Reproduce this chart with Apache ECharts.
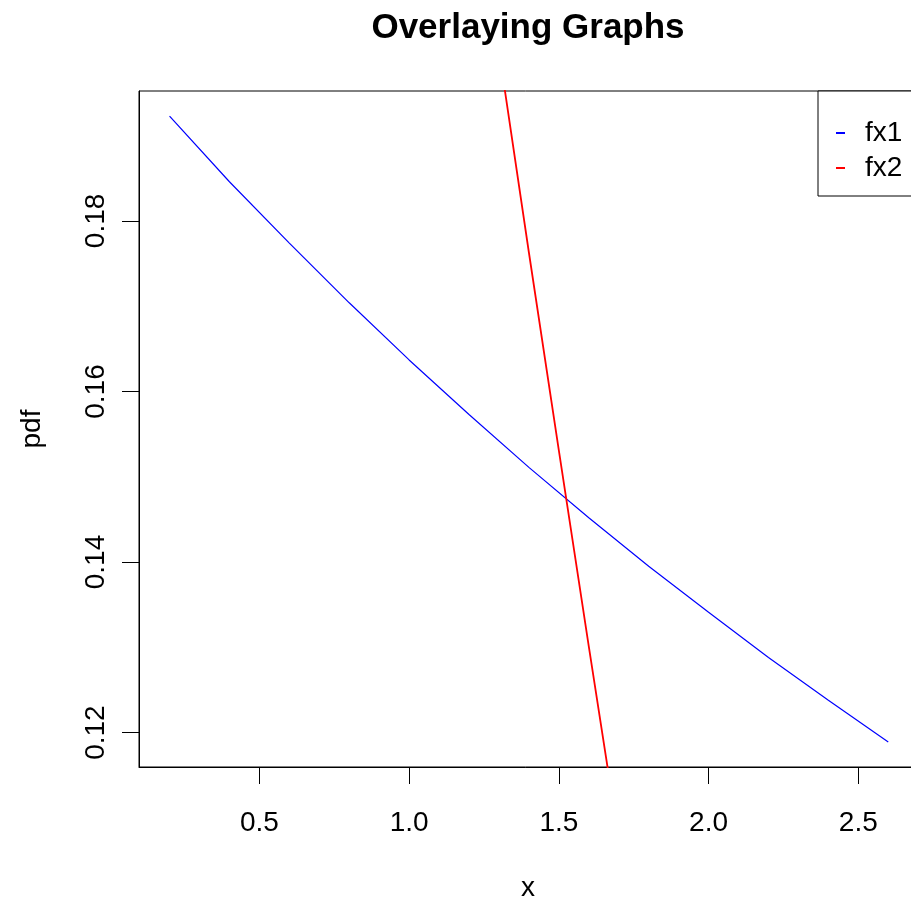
<!DOCTYPE html>
<html>
<head>
<meta charset="utf-8">
<title>Overlaying Graphs</title>
<script src="https://cdn.jsdelivr.net/npm/echarts@6/dist/echarts.min.js"></script>
<style>
  html, body { margin: 0; padding: 0; background: #fff; }
  #chart { width: 911px; height: 904px; }
</style>
</head>
<body>
<div id="chart"></div>
<script>
// Density curve fx1, sampled along x
const fx1X = [0.2, 0.4, 0.6, 0.8, 1.0, 1.2, 1.4, 1.6, 1.8, 2.0, 2.2, 2.4, 2.6];
const fx1Y = [0.1923, 0.1846, 0.1774, 0.1704, 0.1637, 0.1573, 0.1511, 0.1452, 0.1395, 0.1341, 0.1288, 0.1238, 0.1189];

// Density curve fx2 (steep; only its middle part falls inside the y range)
const fx2X = [1.2, 1.3, 1.4, 1.5, 1.6, 1.7, 1.8];
const fx2Y = [0.2290, 0.2000, 0.1763, 0.1531, 0.1301, 0.1075, 0.0860];

// Axis limits and tick marks
const xLimits = [0.098, 2.696];
const yLimits = [0.11596, 0.19524];
const xTicks = [0.5, 1.0, 1.5, 2.0, 2.5];
const yTicks = [0.12, 0.14, 0.16, 0.18];

const seriesNames = ['fx1', 'fx2'];
const seriesColors = ['#0000ff', '#ff0000'];

const pairs = (xs, ys) => xs.map((x, i) => [x, ys[i]]);

const FONT = 'Liberation Sans, Arial, sans-serif';

const chart = echarts.init(document.getElementById('chart'), null, { renderer: 'canvas' });

chart.setOption({
  animation: false,
  backgroundColor: '#ffffff',
  title: {
    text: 'Overlaying Graphs',
    left: 523,
    top: 6,
    textAlign: 'center',
    textStyle: { fontFamily: FONT, fontWeight: 'bold', fontSize: 35, color: '#000' }
  },
  legend: {
    data: seriesNames,
    orient: 'vertical',
    left: 818,
    top: 91,
    padding: [28, 80, 14, 18],
    itemGap: 7,
    itemWidth: 9,
    itemHeight: 2,
    icon: 'rect',
    borderColor: '#000',
    borderWidth: 1,
    backgroundColor: '#fff',
    textStyle: { fontFamily: FONT, fontSize: 28, color: '#000', padding: [0, 0, 0, 15] }
  },
  grid: {
    left: 139,
    top: 91,
    width: 778,
    height: 676,
    outerBoundsMode: 'none',
    show: true,
    borderColor: '#000',
    borderWidth: 1,
    containLabel: false
  },
  xAxis: {
    type: 'value',
    min: xLimits[0],
    max: xLimits[1],
    name: 'x',
    nameLocation: 'middle',
    nameGap: 107,
    nameTextStyle: { fontFamily: FONT, fontSize: 28, color: '#000' },
    axisLine: { show: true, lineStyle: { color: '#000', width: 1 } },
    axisTick: { show: true, length: 17, customValues: xTicks, lineStyle: { color: '#000', width: 1 } },
    axisLabel: {
      customValues: xTicks,
      margin: 42,
      fontFamily: FONT,
      fontSize: 28,
      color: '#000',
      formatter: v => v.toFixed(1)
    },
    splitLine: { show: false }
  },
  yAxis: {
    type: 'value',
    min: yLimits[0],
    max: yLimits[1],
    name: 'pdf',
    nameLocation: 'middle',
    nameRotate: 90,
    nameGap: 93,
    nameTextStyle: { fontFamily: FONT, fontSize: 28, color: '#000' },
    axisLine: { show: true, lineStyle: { color: '#000', width: 1 } },
    axisTick: { show: true, length: 17, customValues: yTicks, lineStyle: { color: '#000', width: 1 } },
    axisLabel: {
      customValues: yTicks,
      rotate: 90,
      margin: 29,
      fontFamily: FONT,
      fontSize: 28,
      color: '#000',
      formatter: v => v.toFixed(2)
    },
    splitLine: { show: false }
  },
  series: [
    {
      name: seriesNames[0],
      type: 'line',
      data: pairs(fx1X, fx1Y),
      showSymbol: false,
      smooth: false,
      clip: true,
      color: seriesColors[0],
      lineStyle: { color: seriesColors[0], width: 1.2 }
    },
    {
      name: seriesNames[1],
      type: 'line',
      data: pairs(fx2X, fx2Y),
      showSymbol: false,
      smooth: false,
      clip: true,
      color: seriesColors[1],
      lineStyle: { color: seriesColors[1], width: 1.8 }
    }
  ]
});
</script>
</body>
</html>
